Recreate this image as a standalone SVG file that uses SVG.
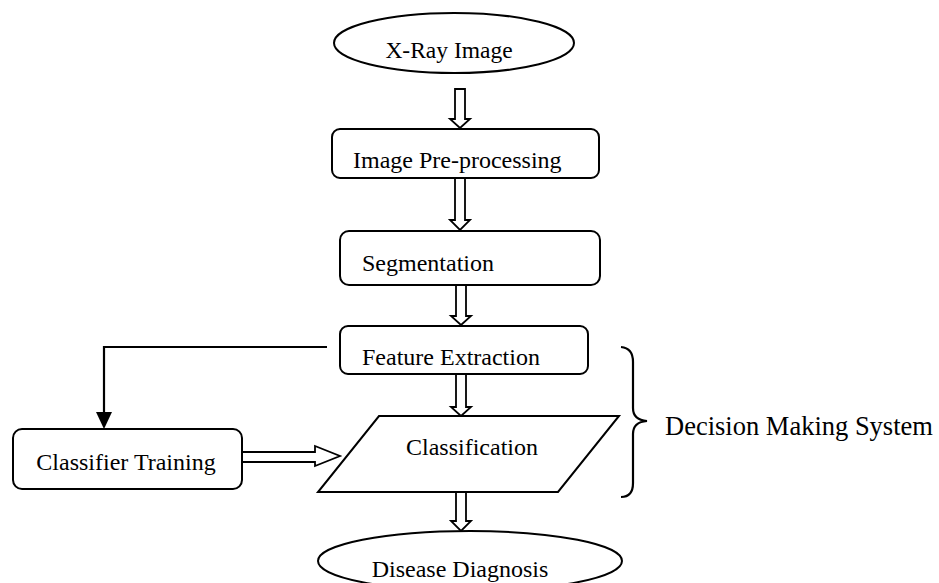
<svg xmlns="http://www.w3.org/2000/svg" width="939" height="583" viewBox="0 0 939 583">
<style>
.shape{fill:#fff;stroke:#000;stroke-width:2}
.blk{fill:#fff;stroke:#000;stroke-width:1.8;stroke-linejoin:miter}
.line{fill:none;stroke:#000;stroke-width:2.2}
text{font-family:"Liberation Serif","Times New Roman",serif;font-size:24px;fill:#000}
</style>
<rect width="939" height="583" fill="#fff"/>
<g id="connectors">
<polygon class="blk" points="455,89 465,89 465,119 470,119 460,128 450,119 455,119"/>
<polygon class="blk" points="455,178 465,178 465,220 470,220 460,230 450,220 455,220"/>
<polygon class="blk" points="456,285 466,285 466,316 471,316 461,325 451,316 456,316"/>
<polygon class="blk" points="456,374 466,374 466,407 471,407 461,416 451,407 456,407"/>
<polygon class="blk" points="456,492 466,492 466,521 471,521 461,531 451,521 456,521"/>
<polygon class="blk" points="242,452 315,452 315,446 340,456 315,466 315,462 242,462"/>
<path class="line" d="M327,347 H104 V418"/>
<path d="M96,412 L112,412 L104,429 Z" fill="#000"/>
</g>
<g id="xray">
<ellipse class="shape" cx="454" cy="43" rx="120" ry="30"/>
<text x="449" y="58" text-anchor="middle" style="font-size:23.5px">X-Ray Image</text>
</g>
<g id="preprocessing">
<rect class="shape" x="332" y="129" width="267" height="49" rx="8"/>
<text x="353" y="168">Image Pre-processing</text>
</g>
<g id="segmentation">
<rect class="shape" x="340" y="231" width="260" height="54" rx="9"/>
<text x="362" y="271">Segmentation</text>
</g>
<g id="feature">
<rect class="shape" x="340" y="326" width="248" height="48" rx="8"/>
<text x="362" y="365">Feature Extraction</text>
</g>
<g id="classification">
<polygon class="shape" points="379,416 619,416 558,492 318,492"/>
<text x="472" y="455" text-anchor="middle">Classification</text>
</g>
<g id="training">
<rect class="shape" x="13" y="429" width="229" height="60" rx="9"/>
<text x="126" y="470" text-anchor="middle">Classifier Training</text>
</g>
<g id="diagnosis">
<ellipse class="shape" cx="470" cy="561" rx="152" ry="30"/>
<text x="460" y="577" text-anchor="middle">Disease Diagnosis</text>
</g>
<g id="brace">
<path class="line" d="M621,347 Q633,348 633,362 V408 Q633,420 647,421 Q633,422 633,434 V483 Q633,497 621,497"/>
<text x="665" y="435" style="font-size:26.5px">Decision Making System</text>
</g>
</svg>
